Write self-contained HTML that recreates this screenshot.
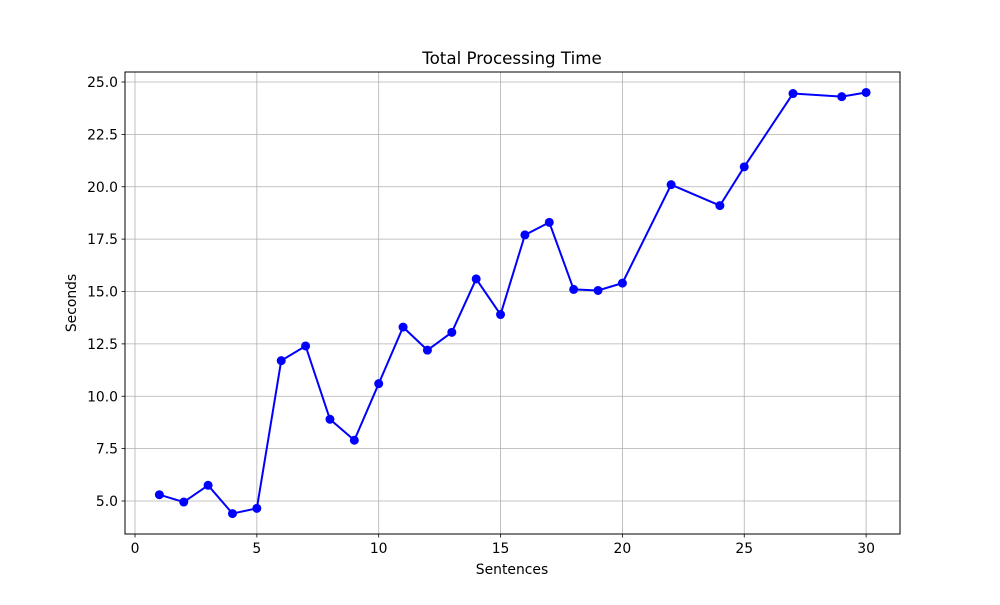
<!DOCTYPE html>
<html><head><meta charset="utf-8"><style>
body{margin:0;background:#fff;}
svg text{font-family:"DejaVu Sans","Liberation Sans",sans-serif;fill:#000;}
</style></head><body>
<svg id="chart" width="1000" height="600" xmlns="http://www.w3.org/2000/svg">
<rect width="1000" height="600" fill="#fff"/>
<g id="grid"></g><g id="ticks"></g><g id="series"></g>
<rect x="125" y="72" width="775" height="462" fill="none" stroke="#000" stroke-width="1"/>
<text x="512" y="64" text-anchor="middle" font-size="16.7">Total Processing Time</text>
<text x="512" y="574" text-anchor="middle" font-size="13.9">Sentences</text>
<text transform="translate(76,303) rotate(-90)" text-anchor="middle" font-size="13.9">Seconds</text>
</svg>
<script>
const xValues=[1,2,3,4,5,6,7,8,9,10,11,12,13,14,15,16,17,18,19,20,22,24,25,27,29,30];
const yValues=[5.3,4.95,5.75,4.4,4.65,11.7,12.4,8.9,7.9,10.6,13.3,12.2,13.05,15.6,13.9,17.7,18.3,15.1,15.05,15.4,20.1,19.1,20.95,24.45,24.3,24.5];
const xTicks=[0,5,10,15,20,25,30];
const yTicks=[5.0,7.5,10.0,12.5,15.0,17.5,20.0,22.5,25.0];
const NS='http://www.w3.org/2000/svg';
const sx=v=>135+v*24.37;
const sy=v=>501-(v-5)*20.95;
function mk(tag,attrs,parent){const e=document.createElementNS(NS,tag);for(const k in attrs)e.setAttribute(k,attrs[k]);parent.appendChild(e);return e;}
const grid=document.getElementById('grid'),ticks=document.getElementById('ticks'),series=document.getElementById('series');
xTicks.forEach(t=>{const x=sx(t);
 const g=mk('line',{x1:x,x2:x,y1:72,y2:534,stroke:'#b0b0b0','stroke-width':0.8},grid);
 
 
 mk('line',{x1:x,x2:x,y1:534,y2:537.5,stroke:'#000','stroke-width':0.8},ticks);
 const tx=mk('text',{x:x,y:553,'text-anchor':'middle','font-size':13.9},ticks);tx.textContent=t;
 
 
});
yTicks.forEach(t=>{const y=sy(t);
 const g=mk('line',{x1:125,x2:900,y1:y,y2:y,stroke:'#b0b0b0','stroke-width':0.8},grid);
 
 
 mk('line',{x1:121.5,x2:125,y1:y,y2:y,stroke:'#000','stroke-width':0.8},ticks);
 const tx=mk('text',{x:118,y:y+5,'text-anchor':'end','font-size':13.9},ticks);tx.textContent=t.toFixed(1);
 
 
});
const pts=xValues.map((x,i)=>sx(x)+','+sy(yValues[i])).join(' ');
const pl=mk('polyline',{points:pts,fill:'none',stroke:'#0000ff','stroke-width':2},series);


xValues.forEach((x,i)=>{const c=mk('circle',{cx:sx(x),cy:sy(yValues[i]),r:4.5,fill:'#0000ff'},series);
 
 
});
</script>
</body></html>
